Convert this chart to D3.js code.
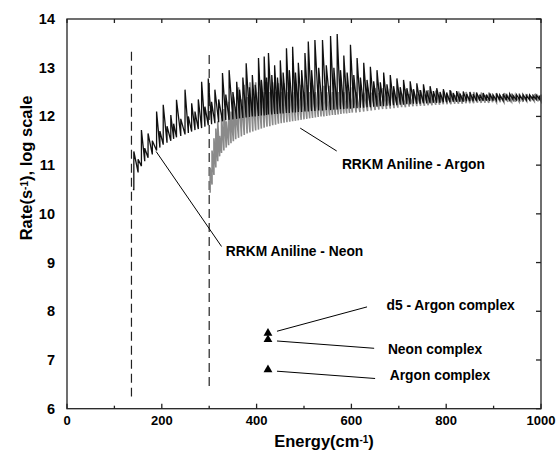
<!DOCTYPE html>
<meta charset="utf-8">
<style>
  body { margin: 0; background: #fff; }
  svg text { font-family: "Liberation Sans", Arial, sans-serif; font-weight: bold; fill: #000; }
</style>
<svg width="558" height="458"></svg>
<script src="https://d3js.org/d3.v7.min.js"></script>
<script>

// x ticks / y ticks
var xMajor = [0, 200, 400, 600, 800, 1000];
var xMinor = [100, 300, 500, 700, 900];
var yTicks = [6, 7, 8, 9, 10, 11, 12, 13, 14];

// thresholds (dashed lines): [energy, top, bottom]
var thresholds = [[136, 13.33, 6.25], [300, 13.26, 6.38]];

// RRKM Aniline - Neon: start point then [energy, spike top, trough after]
var neonStart = [139, 10.5];
var neonSpikes = [
  [141, 11.28, 10.85], [150, 11.12, 10.98], [157, 11.72, 11.08], [164, 11.35, 11.15],
  [171, 11.65, 11.22], [180, 11.5, 11.3], [189, 12.1, 11.36], [196, 11.7, 11.42],
  [203, 12.24, 11.46], [211, 11.8, 11.5], [219, 12.03, 11.54], [225, 11.85, 11.57],
  [231, 12.34, 11.6], [240, 11.95, 11.63], [249, 12.55, 11.66], [256, 12.0, 11.69],
  [263, 12.27, 11.72], [270, 12.1, 11.74], [277, 12.35, 11.76], [284, 12.71, 11.79],
  [291, 12.2, 11.82], [298, 12.78, 11.84], [305, 12.3, 11.86], [312, 12.55, 11.88],
  [320, 12.35, 11.9], [328, 12.89, 11.92], [335, 12.45, 11.93], [342, 12.95, 11.94],
  [350, 12.5, 11.95], [358, 12.71, 11.96], [364, 12.55, 11.97], [371, 12.8, 11.98],
  [378, 13.09, 11.99], [385, 12.6, 12.0], [391, 12.85, 12.0], [397, 12.65, 12.01],
  [404, 13.2, 12.02], [410, 12.75, 12.02], [416, 13.23, 12.03], [421, 12.8, 12.04],
  [425, 13.3, 12.04], [432, 12.85, 12.05], [438, 13.05, 12.05], [444, 12.8, 12.06],
  [450, 13.15, 12.06], [456, 12.9, 12.07], [463, 13.4, 12.07], [469, 12.95, 12.08],
  [476, 13.43, 12.08], [482, 12.9, 12.09], [488, 13.1, 12.09], [495, 12.95, 12.1],
  [502, 13.3, 12.1], [509, 13.54, 12.11], [516, 12.95, 12.11], [523, 13.57, 12.12],
  [531, 13.0, 12.12], [539, 13.57, 12.13], [547, 13.05, 12.13], [556, 13.65, 12.14],
  [563, 13.0, 12.14], [570, 13.69, 12.15], [577, 12.95, 12.15], [584, 13.25, 12.16],
  [591, 12.9, 12.16], [598, 13.47, 12.17], [605, 12.85, 12.17], [612, 13.2, 12.18],
  [619, 12.8, 12.18], [626, 13.1, 12.19], [633, 12.75, 12.19], [640, 13.02, 12.2],
  [647, 12.72, 12.2], [654, 12.95, 12.21], [661, 12.7, 12.21], [668, 12.9, 12.22],
  [675, 12.66, 12.22], [682, 12.85, 12.23], [689, 12.62, 12.23], [696, 12.78, 12.24],
  [703, 12.6, 12.24], [710, 12.75, 12.25], [717, 12.58, 12.25], [724, 12.72, 12.26],
  [731, 12.56, 12.26], [738, 12.68, 12.26], [745, 12.54, 12.27], [752, 12.66, 12.27],
  [759, 12.53, 12.27], [766, 12.62, 12.28], [773, 12.52, 12.28], [780, 12.58, 12.28],
  [787, 12.5, 12.29], [794, 12.56, 12.29], [801, 12.49, 12.29], [808, 12.54, 12.3],
  [815, 12.48, 12.3], [822, 12.52, 12.3], [829, 12.47, 12.3], [836, 12.51, 12.31],
  [843, 12.46, 12.31], [850, 12.5, 12.31], [857, 12.46, 12.31], [864, 12.49, 12.32],
  [871, 12.45, 12.32], [878, 12.48, 12.32], [885, 12.45, 12.32], [892, 12.47, 12.32],
  [899, 12.44, 12.33], [906, 12.47, 12.33], [913, 12.44, 12.33], [920, 12.46, 12.33],
  [927, 12.44, 12.33], [934, 12.46, 12.34], [941, 12.43, 12.34], [948, 12.45, 12.34],
  [955, 12.43, 12.34], [962, 12.45, 12.34], [969, 12.43, 12.34], [976, 12.44, 12.35],
  [983, 12.43, 12.35], [990, 12.44, 12.35], [997, 12.43, 12.35]
];

// RRKM Aniline - Argon
var argonStart = [300, 10.45];
var argonSpikes = [
  [302, 10.95, 10.6], [306, 11.3, 10.8], [310, 11.55, 10.95], [314, 11.75, 11.08],
  [318, 11.9, 11.18], [322, 11.6, 11.25], [326, 12.0, 11.3], [331, 12.15, 11.36],
  [336, 11.9, 11.41], [341, 12.3, 11.45], [346, 12.1, 11.49], [351, 12.4, 11.53],
  [356, 12.2, 11.56], [362, 12.6, 11.59], [368, 12.35, 11.62], [374, 12.65, 11.65],
  [380, 12.4, 11.67], [386, 12.7, 11.69], [392, 12.45, 11.71], [398, 12.7, 11.73],
  [404, 12.5, 11.75], [410, 12.72, 11.77], [416, 12.5, 11.79], [422, 12.7, 11.8],
  [428, 12.5, 11.82], [434, 12.7, 11.83], [440, 12.5, 11.85], [446, 12.68, 11.86],
  [452, 12.5, 11.87], [458, 12.68, 11.88], [464, 12.5, 11.89], [470, 12.66, 11.9],
  [476, 12.5, 11.91], [482, 12.66, 11.92], [488, 12.5, 11.93], [494, 12.65, 11.94],
  [500, 12.5, 11.95], [506, 12.65, 11.96], [512, 12.5, 11.97], [518, 12.64, 11.98],
  [524, 12.5, 11.99], [530, 12.64, 12.0], [536, 12.5, 12.0], [542, 12.63, 12.01],
  [548, 12.5, 12.02], [554, 12.63, 12.03], [560, 12.5, 12.03], [566, 12.62, 12.04],
  [572, 12.5, 12.05], [578, 12.62, 12.06], [584, 12.5, 12.06], [590, 12.61, 12.07],
  [596, 12.5, 12.08], [602, 12.6, 12.08], [610, 12.5, 12.09], [618, 12.6, 12.1],
  [626, 12.49, 12.11], [634, 12.59, 12.12], [642, 12.49, 12.13], [650, 12.58, 12.14],
  [658, 12.48, 12.15], [666, 12.58, 12.15], [674, 12.48, 12.16], [682, 12.57, 12.17],
  [690, 12.47, 12.18], [698, 12.56, 12.19], [706, 12.47, 12.19], [714, 12.56, 12.2],
  [722, 12.46, 12.21], [730, 12.55, 12.21], [738, 12.46, 12.22], [746, 12.54, 12.22],
  [754, 12.45, 12.23], [762, 12.54, 12.23], [770, 12.45, 12.24], [778, 12.53, 12.24],
  [786, 12.45, 12.25], [794, 12.52, 12.25], [802, 12.44, 12.25], [810, 12.52, 12.26],
  [818, 12.44, 12.26], [826, 12.51, 12.26], [834, 12.44, 12.27], [842, 12.5, 12.27],
  [850, 12.43, 12.27], [858, 12.5, 12.28], [866, 12.43, 12.28], [874, 12.49, 12.28],
  [882, 12.43, 12.28], [890, 12.49, 12.29], [898, 12.42, 12.29], [906, 12.48, 12.29],
  [914, 12.42, 12.29], [922, 12.48, 12.3], [930, 12.42, 12.3], [938, 12.47, 12.3],
  [946, 12.42, 12.3], [954, 12.47, 12.3], [962, 12.41, 12.31], [970, 12.46, 12.31],
  [978, 12.41, 12.31], [986, 12.46, 12.31], [994, 12.41, 12.31], [1000, 12.45, 12.31]
];

// experimental complexes
var complexNames = ["d5 - Argon complex", "Neon complex", "Argon complex"];
var complexEnergy = [424, 424, 424];
var complexRate = [7.55, 7.42, 6.8];

// labels: leader from [e1, r1] to [e2, r2], text at [e3, r3]
var labels = [
  { text: "RRKM Aniline - Neon", from: [188, 11.28], to: [326, 9.33], at: [335, 9.13] },
  { text: "RRKM Aniline - Argon", from: [492, 11.76], to: [569, 11.29], at: [580, 10.92] },
  { text: "d5 - Argon complex", from: [443, 7.59], to: [633, 8.09], at: [674, 8.03] },
  { text: "Neon complex", from: [443, 7.39], to: [648, 7.24], at: [677, 7.12] },
  { text: "Argon complex", from: [443, 6.77], to: [650, 6.62], at: [681, 6.58] }
];

var svg = d3.select("svg");

var x = d3.scaleLinear().domain([0, 1000]).range([67, 541]);
var y = d3.scaleLinear().domain([6, 14]).range([408.7, 19]);

function sawPoints(start, rows) {
  var pts = [start];
  var prev = start[1];
  rows.forEach(function (r) {
    pts.push([r[0], prev]);
    pts.push([r[0], r[1]]);
    prev = r[2];
  });
  return pts;
}

var line = d3.line()
  .x(function (d) { return x(d[0]); })
  .y(function (d) { return y(d[1]); });

// threshold lines
svg.append("g").selectAll("line")
  .data(thresholds)
  .enter().append("line")
  .attr("x1", function (d) { return x(d[0]); })
  .attr("x2", function (d) { return x(d[0]); })
  .attr("y1", function (d) { return y(d[1]); })
  .attr("y2", function (d) { return y(d[2]); })
  .attr("stroke", "#222")
  .attr("stroke-width", 1.2)
  .attr("stroke-dasharray", "9,5");

// curves
svg.append("path")
  .attr("d", line(sawPoints(argonStart, argonSpikes)))
  .attr("fill", "none")
  .attr("stroke", "#8a8a8a")
  .attr("stroke-width", 1.6);

svg.append("path")
  .attr("d", line(sawPoints(neonStart, neonSpikes)))
  .attr("fill", "none")
  .attr("stroke", "#111")
  .attr("stroke-width", 1.3);

// triangles
svg.append("g").selectAll("path")
  .data(complexRate)
  .enter().append("path")
  .attr("d", d3.symbol().type(d3.symbolTriangle).size(34))
  .attr("transform", function (d, i) { return "translate(" + x(complexEnergy[i]) + "," + y(d) + ")"; })
  .attr("fill", "#000");

// leaders and labels
var lab = svg.append("g");
lab.selectAll("line")
  .data(labels)
  .enter().append("line")
  .attr("x1", function (d) { return x(d.from[0]); })
  .attr("y1", function (d) { return y(d.from[1]); })
  .attr("x2", function (d) { return x(d.to[0]); })
  .attr("y2", function (d) { return y(d.to[1]); })
  .attr("stroke", "#000")
  .attr("stroke-width", 1);
lab.selectAll("text")
  .data(labels)
  .enter().append("text")
  .attr("x", function (d) { return x(d.at[0]); })
  .attr("y", function (d) { return y(d.at[1]); })
  .attr("font-size", "13.8px")
  .text(function (d) { return d.text; });

// frame
var frame = svg.append("g").attr("stroke", "#222").attr("stroke-width", 1.3);
frame.append("rect")
  .attr("x", x(0)).attr("y", y(14))
  .attr("width", x(1000) - x(0)).attr("height", y(6) - y(14))
  .attr("fill", "none");

// bottom ticks (inward)
frame.selectAll(".bmaj").data(xMajor).enter().append("line")
  .attr("x1", function (d) { return x(d); }).attr("x2", function (d) { return x(d); })
  .attr("y1", y(6)).attr("y2", y(6) - 5);
frame.selectAll(".bmin").data(xMinor).enter().append("line")
  .attr("x1", function (d) { return x(d); }).attr("x2", function (d) { return x(d); })
  .attr("y1", y(6)).attr("y2", y(6) - 3);
// top ticks
frame.selectAll(".tt").data(xMajor.concat(xMinor)).enter().append("line")
  .attr("x1", function (d) { return x(d); }).attr("x2", function (d) { return x(d); })
  .attr("y1", y(14)).attr("y2", y(14) + 4);
// right ticks
frame.selectAll(".rt").data(yTicks).enter().append("line")
  .attr("x1", x(1000)).attr("x2", x(1000) - 5)
  .attr("y1", function (d) { return y(d); }).attr("y2", function (d) { return y(d); });

// tick labels
svg.append("g").selectAll("text")
  .data(xMajor)
  .enter().append("text")
  .attr("x", function (d) { return x(d); })
  .attr("y", 425)
  .attr("text-anchor", "middle")
  .attr("font-size", "13px")
  .text(function (d) { return d; });

svg.append("g").selectAll("text")
  .data(yTicks)
  .enter().append("text")
  .attr("x", 55)
  .attr("y", function (d) { return y(d) + 5; })
  .attr("text-anchor", "end")
  .attr("font-size", "14.5px")
  .text(function (d) { return d; });

// axis titles
var xt = svg.append("text")
  .attr("x", 324).attr("y", 447)
  .attr("text-anchor", "middle")
  .attr("font-size", "16.5px");
xt.append("tspan").text("Energy(cm");
xt.append("tspan").attr("font-size", "10px").attr("dy", -4).text("-1");
xt.append("tspan").attr("dy", 4).text(")");

var yt = svg.append("text")
  .attr("transform", "translate(32,168) rotate(-90)")
  .attr("text-anchor", "middle")
  .attr("font-size", "16.5px");
yt.append("tspan").text("Rate(s");
yt.append("tspan").attr("font-size", "10px").attr("dy", -4).text("-1");
yt.append("tspan").attr("dy", 4).text("), log scale");

</script>
